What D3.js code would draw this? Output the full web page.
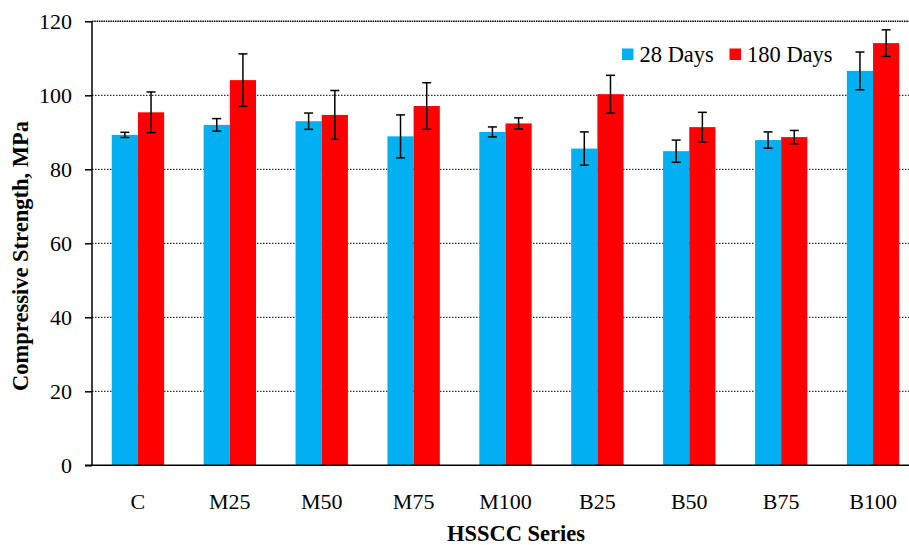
<!DOCTYPE html>
<html>
<head>
<meta charset="utf-8">
<script src="https://cdn.jsdelivr.net/npm/d3@7"></script>
<style>
  html, body { margin: 0; padding: 0; background: #fff; }
  svg text { font-family: "Liberation Serif", "Times New Roman", "DejaVu Serif", serif !important; fill: #000; }
</style>
</head>
<body>
<svg id="chart" width="909" height="545"></svg>
<script>
// Compressive strength of HSSCC mixes at 28 and 180 days (MPa)
const categories = ["C", "M25", "M50", "M75", "M100", "B25", "B50", "B75", "B100"];
const seriesNames = ["28 Days", "180 Days"];
const seriesColors = ["#00B0F0", "#FF0000"];
const days28 = [89.3, 92.0, 93.0, 88.9, 90.1, 85.6, 84.9, 87.9, 106.6];
const days180 = [95.4, 104.1, 94.7, 97.1, 92.4, 100.3, 91.4, 88.7, 114.1];
const err28 = [0.7, 1.7, 2.2, 5.8, 1.35, 4.5, 3.0, 2.2, 5.1];
const err180 = [5.5, 7.1, 6.6, 6.3, 1.5, 5.1, 4.0, 1.8, 3.6];
const yTicks = [0, 20, 40, 60, 80, 100, 120];

const svg = d3.select("#chart");
const plot = { left: 92, right: 919, top: 21.3, bottom: 465.3 };

const x = d3.scaleBand().domain(categories).range([plot.left, plot.right]).paddingInner(0).paddingOuter(0);
const groupWidth = x.bandwidth() * 0.57;
const xs = d3.scaleBand().domain(seriesNames).range([0, groupWidth]).padding(0);
const y = d3.scaleLinear().domain([0, 120]).range([plot.bottom, plot.top]);

// Dotted horizontal gridlines
svg.append("g").selectAll("line")
  .data(yTicks.filter(t => t > 0))
  .join("line")
  .attr("x1", plot.left).attr("x2", 909)
  .attr("y1", d => y(d)).attr("y2", d => y(d))
  .attr("stroke", "#000")
  .attr("stroke-width", d => d === 120 ? 1.6 : 1)
  .attr("stroke-dasharray", d => d === 120 ? "1.5,0.8" : "1.5,1.5");

// Bars
const rows = categories.map((c, i) => ({
  cat: c,
  vals: [
    { s: seriesNames[0], v: days28[i], e: err28[i], color: seriesColors[0] },
    { s: seriesNames[1], v: days180[i], e: err180[i], color: seriesColors[1] }
  ]
}));

const groups = svg.append("g").selectAll("g")
  .data(rows)
  .join("g")
  .attr("transform", d => `translate(${x(d.cat) + (x.bandwidth() - groupWidth) / 2},0)`);

groups.selectAll("rect")
  .data(d => d.vals)
  .join("rect")
  .attr("x", d => xs(d.s))
  .attr("width", xs.bandwidth())
  .attr("y", d => y(d.v))
  .attr("height", d => y(0) - y(d.v))
  .attr("fill", d => d.color);

// Error bars
const capHalf = 4.5;
const eb = groups.selectAll("g.err")
  .data(d => d.vals)
  .join("g")
  .attr("class", "err")
  .attr("stroke", "#000")
  .attr("stroke-width", 1.5);
eb.append("line")
  .attr("x1", d => xs(d.s) + xs.bandwidth() / 2)
  .attr("x2", d => xs(d.s) + xs.bandwidth() / 2)
  .attr("y1", d => y(d.v + d.e))
  .attr("y2", d => y(d.v - d.e));
eb.append("line")
  .attr("x1", d => xs(d.s) + xs.bandwidth() / 2 - capHalf)
  .attr("x2", d => xs(d.s) + xs.bandwidth() / 2 + capHalf)
  .attr("y1", d => y(d.v + d.e))
  .attr("y2", d => y(d.v + d.e));
eb.append("line")
  .attr("x1", d => xs(d.s) + xs.bandwidth() / 2 - capHalf)
  .attr("x2", d => xs(d.s) + xs.bandwidth() / 2 + capHalf)
  .attr("y1", d => y(d.v - d.e))
  .attr("y2", d => y(d.v - d.e));

// Y axis
const yAxis = svg.append("g")
  .attr("transform", `translate(${plot.left},0)`)
  .call(d3.axisLeft(y).tickValues(yTicks).tickSize(7).tickPadding(13));
yAxis.select(".domain").attr("stroke-width", 1.5).attr("d", `M0,${plot.bottom}V${plot.top}`);
yAxis.selectAll(".tick line").attr("stroke-width", 1.5);
yAxis.selectAll(".tick text").attr("font-size", 22);

// X axis
const xAxis = svg.append("g")
  .attr("transform", `translate(0,${plot.bottom})`)
  .call(d3.axisBottom(x).tickSize(0).tickPadding(28));
xAxis.select(".domain").attr("stroke-width", 1.5).attr("d", `M${plot.left - 7},0H909`);
xAxis.selectAll(".tick text").attr("font-size", 22);

// Axis titles
svg.append("text")
  .attr("x", 516).attr("y", 541)
  .attr("text-anchor", "middle")
  .attr("font-weight", "bold")
  .attr("font-size", 22.5)
  .text("HSSCC Series");

svg.append("text")
  .attr("transform", "translate(28,256) rotate(-90)")
  .attr("text-anchor", "middle")
  .attr("font-weight", "bold")
  .attr("font-size", 22.5)
  .text("Compressive Strength, MPa");

// Legend
const legendItems = [
  { name: seriesNames[0], color: seriesColors[0], x: 622 },
  { name: seriesNames[1], color: seriesColors[1], x: 729.5 }
];
const legend = svg.append("g").selectAll("g")
  .data(legendItems)
  .join("g")
  .attr("transform", d => `translate(${d.x},48.5)`);
legend.append("rect")
  .attr("width", 11.5).attr("height", 11.5)
  .attr("fill", d => d.color);
legend.append("text")
  .attr("x", 17.5).attr("y", 13)
  .attr("font-size", 22.5)
  .text(d => d.name);
</script>
</body>
</html>
